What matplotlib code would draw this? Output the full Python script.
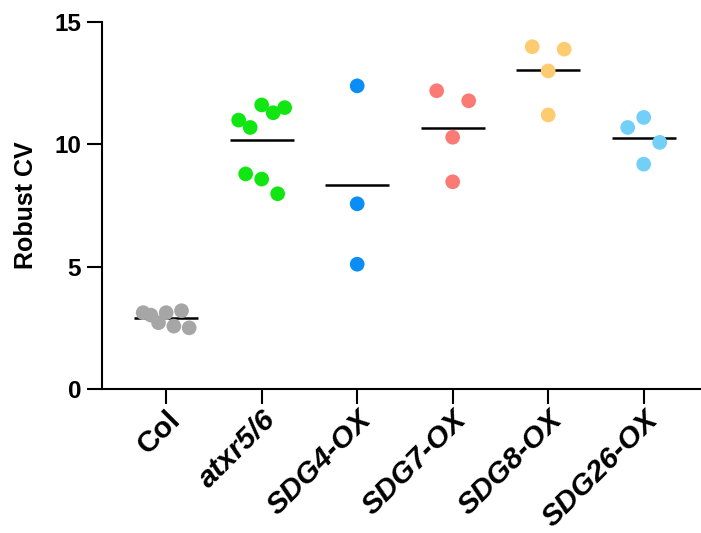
import numpy as np
import matplotlib
matplotlib.use("Agg")
import matplotlib.pyplot as plt

# ---- data ----
categories = ["Col", "atxr5/6", "SDG4-OX", "SDG7-OX", "SDG8-OX", "SDG26-OX"]
col = [3.12, 3.02, 2.71, 3.12, 2.57, 3.20, 2.50]
atxr = [10.99, 10.69, 11.61, 11.29, 11.50, 8.79, 8.58, 7.98]
sdg4 = [12.39, 7.57, 5.10]
sdg7 = [12.19, 11.78, 10.29, 8.47]
sdg8 = [13.99, 13.89, 13.00, 11.20]
sdg26 = [10.69, 11.10, 10.08, 9.19]
groups = [col, atxr, sdg4, sdg7, sdg8, sdg26]
colors = ["#a6a6a6", "#12e612", "#0a8ef5", "#fb7a76", "#fdcc70", "#72cff7"]
yticks = [0, 5, 10, 15]

plt.rcParams['font.family'] = ['Liberation Sans', 'DejaVu Sans']

W, H, DPI = 701, 533, 100
fig = plt.figure(figsize=(W / DPI, H / DPI), dpi=DPI)
ax = fig.add_axes([102 / W, 1 - 389 / H, (W - 102) / W, (389 - 22) / H])
ax.set_xlim(-0.672, 5.6)
ax.set_ylim(0, 15)

# pixel scales for the scatter-column layout
px_per_x = (W - 102) / (5.6 + 0.672)
px_per_y = (389 - 22) / 15.0
marker_d = 14.7      # px
row_gap = 16.0       # px: points closer than this in y share a row
slot = 16.0          # px: horizontal slot width
half_width = 23.0    # px: max half-spread of a row


def column_offsets(values):
    vals = np.asarray(values, float)
    yp = vals * px_per_y
    order = np.argsort(-yp, kind='stable')
    rows, cur = [], [order[0]]
    for a, b in zip(order[:-1], order[1:]):
        if yp[a] - yp[b] < row_gap:
            cur.append(b)
        else:
            rows.append(cur)
            cur = [b]
    rows.append(cur)
    offs = np.zeros(len(vals))
    for r in rows:
        r = sorted(r)  # data order -> left to right
        n = len(r)
        if n == 1:
            continue
        if n % 2:
            ks = np.arange(n) - (n - 1) / 2
        else:
            ks = np.array([k for k in range(-n // 2, n // 2 + 1) if k != 0], float)
        sp = min(slot, half_width / np.max(np.abs(ks)))
        for idx, k in zip(r, ks):
            offs[idx] = k * sp
    return offs / px_per_x


ms = (marker_d * 72 / DPI) ** 2
for i, (g, c) in enumerate(zip(groups, colors)):
    off = column_offsets(g)
    ax.scatter(i + off, g, s=ms, color=c, edgecolors='none', zorder=3)
    m = np.mean(g)
    ax.plot([i - 0.335, i + 0.335], [m, m], color='black', lw=1.8, zorder=2,
            solid_capstyle='butt')

for s in ['top', 'right']:
    ax.spines[s].set_visible(False)
for s in ['left', 'bottom']:
    ax.spines[s].set_linewidth(1.5)

ax.set_yticks(yticks)
ax.set_yticklabels([str(t) for t in yticks], fontsize=17.5, fontweight='bold')
ax.set_xticks(range(len(categories)))
labels = ax.set_xticklabels(categories, fontsize=21.5, fontweight='bold',
                            rotation=45, ha='right', rotation_mode='anchor')
for lab in labels[1:]:
    lab.set_style('italic')
ax.tick_params(axis='both', length=11, width=1.5, direction='out', pad=4)
ax.tick_params(axis='x', pad=1)
ax.set_ylabel("Robust CV", fontsize=18, fontweight='bold', labelpad=12)

fig.savefig("out.png", dpi=DPI)
